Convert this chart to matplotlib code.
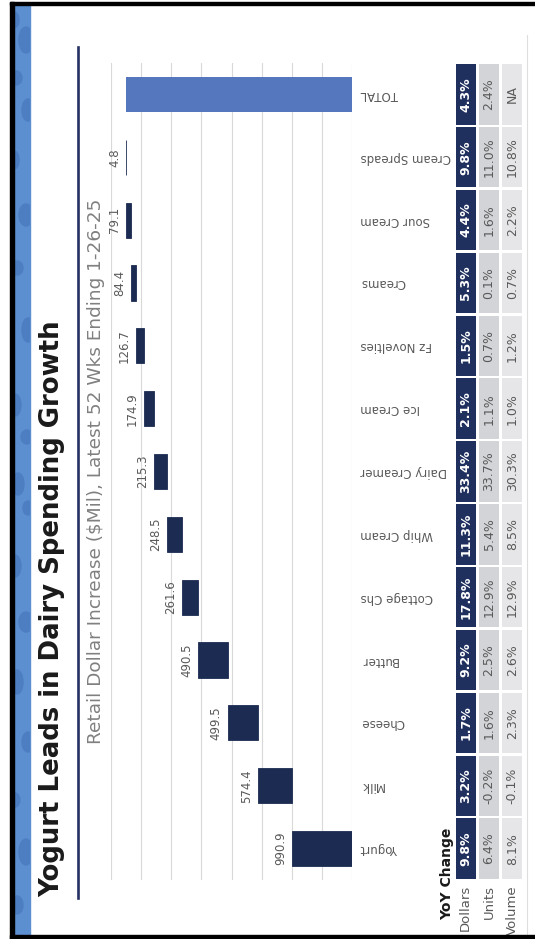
import numpy as np
import matplotlib
matplotlib.use('Agg')
import matplotlib.pyplot as plt
from matplotlib.patches import Rectangle, Ellipse
from matplotlib.lines import Line2D

# chart data, bottom (Yogurt) to top (TOTAL)
categories = ['Yogurt', 'Milk', 'Cheese', 'Butter', 'Cottage Chs', 'Whip Cream',
              'Dairy Creamer', 'Ice Cream', 'Fz Novelties', 'Creams', 'Sour Cream',
              'Cream Spreads', 'TOTAL']
increase = [990.9, 574.4, 499.5, 490.5, 261.6, 248.5, 215.3, 174.9, 126.7, 84.4, 79.1, 4.8]
dollars = ['9.8%', '3.2%', '1.7%', '9.2%', '17.8%', '11.3%', '33.4%', '2.1%', '1.5%',
           '5.3%', '4.4%', '9.8%', '4.3%']
units = ['6.4%', '-0.2%', '1.6%', '2.5%', '12.9%', '5.4%', '33.7%', '1.1%', '0.7%',
         '0.1%', '1.6%', '11.0%', '2.4%']
volume = ['8.1%', '-0.1%', '2.3%', '2.6%', '12.9%', '8.5%', '30.3%', '1.0%', '1.2%',
          '0.7%', '2.2%', '10.8%', 'NA']
row_names = ['Dollars', 'Units', 'Volume']
grid_ticks = np.arange(0, 4001, 500)

title = 'Yogurt Leads in Dairy Spending Growth'
subtitle = 'Retail Dollar Increase ($Mil), Latest 52 Wks Ending 1-26-25'

W, H = 535, 939
NAVY = '#1c2b52'
GREY_TXT = '#595959'

plt.rcParams['font.family'] = ['DejaVu Sans']

fig = plt.figure(figsize=(W / 100, H / 100), dpi=100)
fig.patch.set_facecolor('white')

def fx(px):
    return px / W

def fy(py):
    return 1 - py / H

# main waterfall axes
ax = fig.add_axes([fx(111), fy(880), fx(352) - fx(111), fy(63) - fy(880)])
pos = np.arange(len(categories))
starts = np.concatenate([[0], np.cumsum(increase)[:-1]])
total = np.sum(increase)

ax.barh(pos[:-1], increase, left=starts, height=0.56, color=NAVY,
        edgecolor=NAVY, linewidth=0.6, zorder=3)
ax.barh(pos[-1], total, height=0.56, color='#5577be', zorder=3)

for i, v in enumerate(increase):
    ax.annotate(f'{v:.1f}', xy=(starts[i] + v, pos[i]), xytext=(-5, 0),
                textcoords='offset pixels', ha='right', va='center', rotation=90,
                fontsize=8.5, color=GREY_TXT)

ax.set_xlim(4000, 0)
ax.set_ylim(-0.5, len(categories) - 0.5)
ax.set_xticks(grid_ticks)
ax.xaxis.grid(True, color='#d9d9d9', linewidth=0.8, zorder=0)
ax.tick_params(axis='x', length=0, labelbottom=False)
ax.yaxis.tick_right()
ax.set_yticks(pos)
ax.set_yticklabels(categories, rotation=180, ha='left', va='center',
                   fontsize=8.5, color=GREY_TXT)
ax.tick_params(axis='y', length=0, pad=6)
for s in ax.spines.values():
    s.set_visible(False)

# YoY table
tx = fig.add_axes([fx(454), fy(880), fx(524) - fx(454), fy(63) - fy(880)], sharey=ax)
cols = [dollars, units, volume]
cell_colors = ['#1f2f5e', '#d3d4d8', '#e6e6e8']
text_colors = ['white', GREY_TXT, GREY_TXT]
weights = ['bold', 'normal', 'normal']
for c, vals in enumerate(cols):
    tx.barh(pos, 0.86, left=c - 0.43, height=0.96, color=cell_colors[c])
    for i, s in enumerate(vals):
        tx.text(c, pos[i], s, rotation=90, ha='center', va='center',
                fontsize=9, color=text_colors[c], fontweight=weights[c])
    tx.annotate(row_names[c], xy=(c, 0), xycoords=('data', 'axes fraction'),
                xytext=(0, -5), textcoords='offset pixels', rotation=90,
                ha='center', va='top', fontsize=9.5, color=GREY_TXT)
tx.set_xlim(-0.5, 2.5)
tx.axis('off')

fig.text(fx(447), fy(828), 'YoY Change', rotation=90, ha='center', va='top',
         fontsize=10, fontweight='bold', color='#1a1a1a')

# titles
fig.text(fx(52), fy(897), title, rotation=90, ha='center', va='bottom',
         fontsize=18.7, fontweight='bold', color='#1a1a1a')
fig.text(fx(96), fy(471), subtitle, rotation=90, ha='center', va='center',
         fontsize=13.3, color='#808080')
fig.add_artist(Line2D([fx(77.5), fx(77.5)], [fy(47), fy(898)], color='#243063', lw=1.9))

# frame: blue strip with darker spots, black edges
strip = Rectangle((fx(13.5), fy(935)), fx(30) - fx(13.5), fy(4.5) - fy(935),
                  transform=fig.transFigure, color='#5b8fd0', zorder=5)
fig.add_artist(strip)
spots = [(14, 20, 10, 16), (26, 40, 14, 26), (16, 78, 12, 14), (28, 110, 12, 22),
         (14, 160, 10, 18), (26, 215, 14, 22), (17, 268, 12, 14), (28, 330, 12, 24),
         (15, 405, 12, 22), (27, 437, 12, 14), (18, 484, 12, 22), (28, 508, 10, 14),
         (15, 566, 12, 22), (26, 622, 14, 20), (17, 682, 12, 24), (28, 742, 12, 20),
         (15, 800, 10, 14), (26, 852, 14, 26), (17, 905, 12, 18)]
for (cx, cy, w, h) in spots:
    e = Ellipse((fx(cx), fy(cy)), fx(w), h / H, transform=fig.transFigure,
                color='#4d7ec2', zorder=6)
    fig.add_artist(e)
    e.set_clip_path(strip)
for rect in [(10, 2, 13.5, 939), (10, 2, 535, 4.5), (10, 935, 535, 939)]:
    x0, y0, x1, y1 = rect
    fig.add_artist(Rectangle((fx(x0), fy(y1)), fx(x1) - fx(x0), fy(y0) - fy(y1),
                             transform=fig.transFigure, color='black', zorder=7))
fig.add_artist(Line2D([fx(527), fx(527)], [fy(35), fy(935)], color='#dedede', lw=0.8))

fig.savefig('out.png', dpi=100)
